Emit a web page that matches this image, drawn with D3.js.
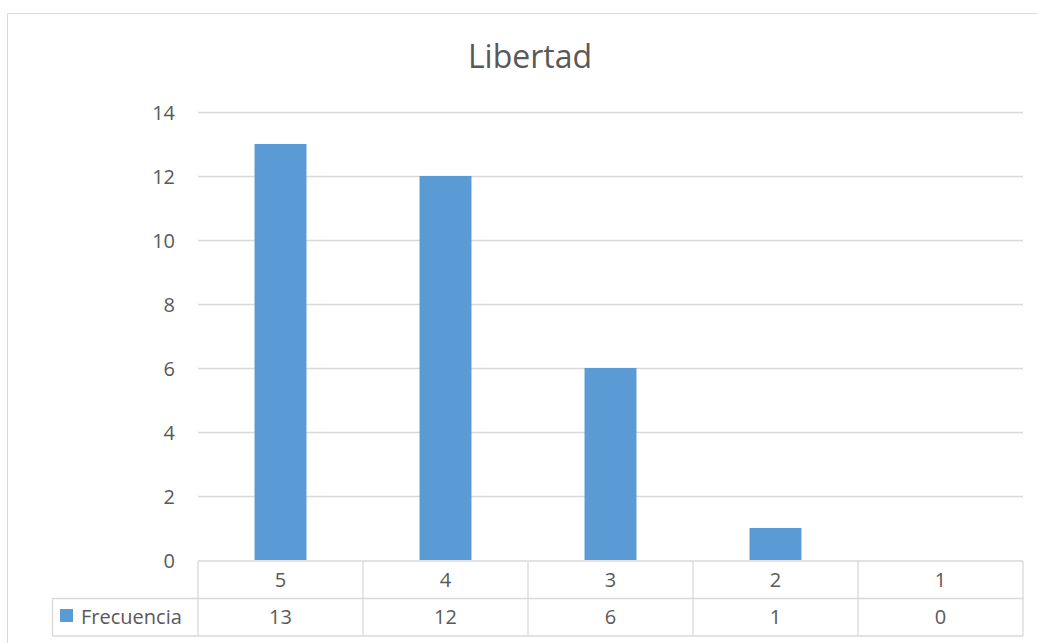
<!DOCTYPE html>
<html><head><meta charset="utf-8">
<script src="https://cdn.jsdelivr.net/npm/d3@7/dist/d3.min.js"></script>
<style>body{margin:0;background:#fff}svg{display:block}text{font-family:"Open Sans",sans-serif;fill:#595959}</style>
</head><body><svg id="c" width="1037" height="643"></svg>
<script>
const title = "Libertad";
const categories = ["5","4","3","2","1"];
const seriesName = "Frecuencia";
const values = [13,12,6,1,0];
const yTicks = [0,2,4,6,8,10,12,14];

(function(){
const svg = d3.select("#c");
const W = 1037, H = 643;
const pLeft = 198, pRight = 1023, pTop = 112, pBottom = 560;
const rowH = 37.5;
const fs = 20;

// outer frame
svg.append("path").attr("d", `M7.5,${H} V13.5 H${W}`).attr("fill","none").attr("stroke","#d9d9d9").attr("stroke-width",1);

const x = d3.scaleBand().domain(categories).range([pLeft,pRight]).paddingInner(0.685).paddingOuter(0.3425);
const xc = d3.scaleBand().domain(categories).range([pLeft,pRight]);
const y = d3.scaleLinear().domain([0,14]).range([pBottom,pTop]);

// gridlines
svg.append("g").selectAll("line").data(yTicks.filter(d=>d>0)).join("line")
  .attr("x1",pLeft).attr("x2",pRight).attr("y1",d=>Math.round(y(d))+0.5).attr("y2",d=>Math.round(y(d))+0.5)
  .attr("stroke","#d9d9d9").attr("stroke-width",1.3);

// y axis labels
const yAxis = d3.axisLeft(y).tickValues(yTicks).tickSize(0).tickPadding(0);
const ga = svg.append("g").attr("transform",`translate(175,0)`).call(yAxis);
ga.select(".domain").remove();
ga.selectAll("text").attr("font-size",fs).attr("font-family","'Open Sans',sans-serif").attr("fill","#595959").attr("dy","0.36em");

// bars
svg.append("g").selectAll("rect").data(values).join("rect")
  .attr("x",(d,i)=>x(categories[i])).attr("width",x.bandwidth())
  .attr("y",d=>y(d)).attr("height",d=>y(0)-y(d)).attr("fill","#5b9bd5");

// data table
const g = svg.append("g");
const r0 = pBottom+1, r1 = r0+rowH, r2 = r1+rowH;
const tleft = 52.5;
const line = (x1,y1,x2,y2)=>g.append("line").attr("x1",x1).attr("y1",y1).attr("x2",x2).attr("y2",y2).attr("stroke","#d9d9d9").attr("stroke-width",1.3);
line(pLeft,r0,pRight,r0);
line(tleft,r1,pRight,r1);
line(tleft,r2,pRight,r2);
line(tleft,r1,tleft,r2);
[...categories.map(c=>xc(c)), pRight].forEach(xx=>line(xx,r0,xx,r2));

g.selectAll("text.cat").data(categories).join("text").attr("class","cat")
  .attr("x",c=>xc(c)+xc.bandwidth()/2).attr("y",(r0+r1)/2).attr("dy","0.36em")
  .attr("text-anchor","middle").attr("font-size",fs).text(c=>c);
g.selectAll("text.val").data(values).join("text").attr("class","val")
  .attr("x",(d,i)=>xc(categories[i])+xc.bandwidth()/2).attr("y",(r1+r2)/2).attr("dy","0.36em")
  .attr("text-anchor","middle").attr("font-size",fs).text(d=>d);

g.append("rect").attr("x",60).attr("y",609).attr("width",13).attr("height",13).attr("fill","#5b9bd5");
g.append("text").attr("x",81).attr("y",(r1+r2)/2).attr("dy","0.36em").attr("font-size",fs).text(seriesName);

// title
svg.append("text").attr("x",530).attr("y",68).attr("text-anchor","middle").attr("font-size",32).text(title);
})();
</script></body></html>
